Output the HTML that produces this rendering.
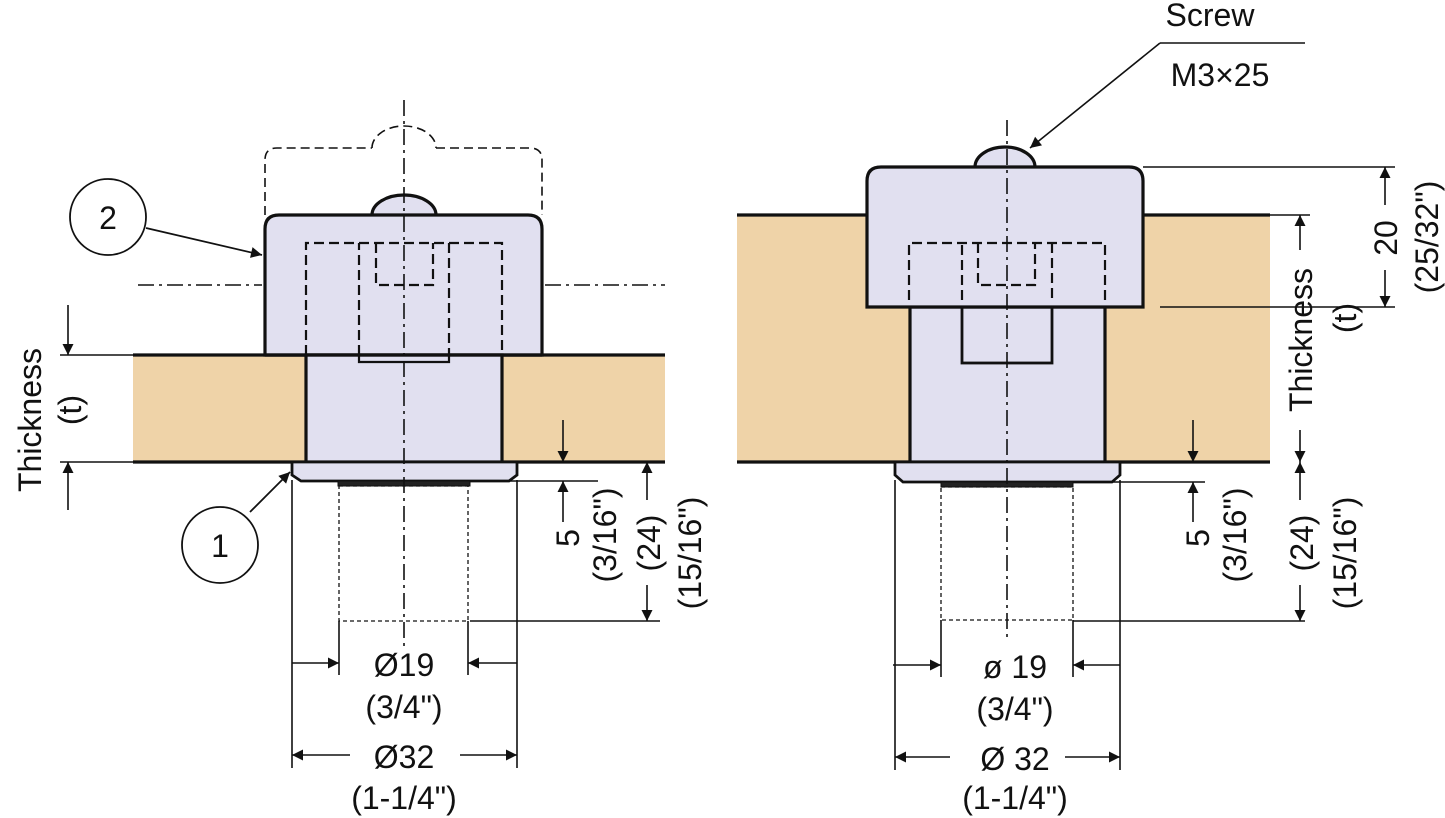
<!DOCTYPE html>
<html><head><meta charset="utf-8"><style>
html,body{margin:0;padding:0;background:#fff}
svg{display:block}
text{font-family:"Liberation Sans",sans-serif;font-size:32px;fill:#111}
</style></head><body>
<svg width="1445" height="818" viewBox="0 0 1445 818" xmlns="http://www.w3.org/2000/svg">
<defs>
<marker id="a" viewBox="0 0 10 10" refX="10" refY="5" markerWidth="20" markerHeight="11" orient="auto" markerUnits="userSpaceOnUse"><path d="M0,0L10,5L0,10z" fill="#111"/></marker>
</defs>
<g stroke="#111" fill="none">
<!-- ===== LEFT VIEW ===== -->
<rect x="133" y="355" width="532" height="107" fill="#efd3a8" stroke="none"/>
<line x1="133" y1="355" x2="665" y2="355" stroke-width="3.2"/>
<line x1="133" y1="462" x2="665" y2="462" stroke-width="3.2"/>
<path d="M265,215 V160 Q265,148 277,148 H372 M436,148 H530 Q542,148 542,160 V215" stroke-width="1.6" stroke-dasharray="9,5"/>
<path d="M372,148 A32,22 0 0 1 436,148" stroke-width="1.6" stroke-dasharray="9,5"/>
<line x1="138" y1="285" x2="262" y2="285" stroke-width="1.6" stroke-dasharray="16,5,3,5"/>
<line x1="545" y1="285" x2="665" y2="285" stroke-width="1.6" stroke-dasharray="16,5,3,5"/>
<path d="M372,215 A32,20 0 0 1 436,215" fill="#e1e0f0" stroke-width="3.2"/>
<path d="M265,355 V229 Q265,215 279,215 H528 Q542,215 542,229 V355 Z" fill="#e1e0f0" stroke-width="3.2"/>
<rect x="306" y="355" width="196" height="107" fill="#e1e0f0" stroke-width="3.2"/>
<line x1="265" y1="355" x2="542" y2="355" stroke-width="3.2"/>
<path d="M292,462 H517 V475 L509,481 H301 L292,475 Z" fill="#e1e0f0" stroke-width="2.8"/>
<rect x="338" y="481" width="132" height="5" fill="#222" stroke-width="1"/>
<path d="M306,355 V243 H502 V355" stroke-width="2.2" stroke-dasharray="10,5"/>
<path d="M359,355 V243 M449,243 V355" stroke-width="2.2" stroke-dasharray="10,5"/>
<path d="M359,355 V362 H449 V355" stroke-width="2.2"/>
<path d="M376,243 V285 H433 V243" stroke-width="2.2" stroke-dasharray="10,5"/>
<rect x="339" y="486" width="129" height="135" stroke-width="1.3" stroke-dasharray="4,3"/>
<line x1="404" y1="100" x2="404" y2="650" stroke-width="1.6" stroke-dasharray="16,5,3,5"/>
<circle cx="108" cy="217" r="38" fill="#fff" stroke-width="1.8"/>
<line x1="146" y1="228" x2="262" y2="255" stroke-width="1.8" marker-end="url(#a)"/>
<circle cx="220" cy="545" r="38" fill="#fff" stroke-width="1.8"/>
<line x1="250" y1="512" x2="290" y2="472" stroke-width="1.8" marker-end="url(#a)"/>
<line x1="60" y1="355" x2="133" y2="355" stroke-width="1.6"/>
<line x1="60" y1="462" x2="133" y2="462" stroke-width="1.6"/>
<line x1="68" y1="305" x2="68" y2="355" stroke-width="1.6" marker-end="url(#a)"/>
<line x1="68" y1="510" x2="68" y2="462" stroke-width="1.6" marker-end="url(#a)"/>
<line x1="470" y1="481" x2="598" y2="481" stroke-width="1.6"/>
<line x1="470" y1="621" x2="660" y2="621" stroke-width="1.6"/>
<line x1="563" y1="420" x2="563" y2="462" stroke-width="1.6" marker-end="url(#a)"/>
<line x1="563" y1="522" x2="563" y2="481" stroke-width="1.6" marker-end="url(#a)"/>
<line x1="647" y1="500" x2="647" y2="462" stroke-width="1.6" marker-end="url(#a)"/>
<line x1="647" y1="585" x2="647" y2="621" stroke-width="1.6" marker-end="url(#a)"/>
<line x1="292" y1="480" x2="292" y2="768" stroke-width="1.6"/>
<line x1="517" y1="480" x2="517" y2="768" stroke-width="1.6"/>
<line x1="339" y1="621" x2="339" y2="675" stroke-width="1.6"/>
<line x1="468" y1="621" x2="468" y2="675" stroke-width="1.6"/>
<line x1="292" y1="663" x2="339" y2="663" stroke-width="1.6" marker-end="url(#a)"/>
<line x1="517" y1="663" x2="468" y2="663" stroke-width="1.6" marker-end="url(#a)"/>
<line x1="350" y1="755" x2="292" y2="755" stroke-width="1.6" marker-end="url(#a)"/>
<line x1="460" y1="755" x2="517" y2="755" stroke-width="1.6" marker-end="url(#a)"/>

<!-- ===== RIGHT VIEW ===== -->
<rect x="737" y="215" width="533" height="247" fill="#efd3a8" stroke="none"/>
<line x1="737" y1="215" x2="1270" y2="215" stroke-width="3.2"/>
<line x1="737" y1="462" x2="1270" y2="462" stroke-width="3.2"/>
<path d="M975,167 A30,20 0 0 1 1035,167" fill="#e1e0f0" stroke-width="3.2"/>
<rect x="910" y="307" width="195" height="155" fill="#e1e0f0" stroke-width="3.2"/>
<path d="M867,307 V181 Q867,167 881,167 H1129 Q1143,167 1143,181 V307 Z" fill="#e1e0f0" stroke-width="3.2"/>
<rect x="962" y="307" width="90" height="56" stroke-width="2.8"/>
<path d="M895,462 H1120 V475 L1112,482 H903 L895,475 Z" fill="#e1e0f0" stroke-width="2.8"/>
<rect x="941" y="482" width="132" height="5" fill="#222" stroke-width="1"/>
<path d="M909,300 V243 H1105 V300" stroke-width="2.2" stroke-dasharray="10,5"/>
<path d="M962,300 V243 M1052,243 V300" stroke-width="2.2" stroke-dasharray="10,5"/>
<path d="M978,243 V285 H1035 V243" stroke-width="2.2" stroke-dasharray="10,5"/>
<rect x="941" y="487" width="132" height="133" stroke-width="1.3" stroke-dasharray="4,3"/>
<line x1="1007" y1="120" x2="1007" y2="640" stroke-width="1.6" stroke-dasharray="16,5,3,5"/>
<line x1="1160" y1="43" x2="1305" y2="43" stroke-width="1.6"/>
<line x1="1160" y1="43" x2="1030" y2="148" stroke-width="1.6" marker-end="url(#a)"/>
<line x1="1143" y1="167" x2="1395" y2="167" stroke-width="1.6"/>
<line x1="1160" y1="307" x2="1395" y2="307" stroke-width="1.6"/>
<line x1="1385" y1="205" x2="1385" y2="167" stroke-width="1.6" marker-end="url(#a)"/>
<line x1="1385" y1="270" x2="1385" y2="307" stroke-width="1.6" marker-end="url(#a)"/>
<line x1="1270" y1="215" x2="1310" y2="215" stroke-width="1.6"/>
<line x1="1300" y1="250" x2="1300" y2="215" stroke-width="1.6" marker-end="url(#a)"/>
<line x1="1300" y1="430" x2="1300" y2="462" stroke-width="1.6" marker-end="url(#a)"/>
<line x1="1073" y1="482" x2="1205" y2="482" stroke-width="1.6"/>
<line x1="1073" y1="621" x2="1305" y2="621" stroke-width="1.6"/>
<line x1="1193" y1="420" x2="1193" y2="462" stroke-width="1.6" marker-end="url(#a)"/>
<line x1="1193" y1="522" x2="1193" y2="482" stroke-width="1.6" marker-end="url(#a)"/>
<line x1="1300" y1="500" x2="1300" y2="462" stroke-width="1.6" marker-end="url(#a)"/>
<line x1="1300" y1="585" x2="1300" y2="621" stroke-width="1.6" marker-end="url(#a)"/>
<line x1="895" y1="480" x2="895" y2="770" stroke-width="1.6"/>
<line x1="1120" y1="480" x2="1120" y2="770" stroke-width="1.6"/>
<line x1="941" y1="620" x2="941" y2="677" stroke-width="1.6"/>
<line x1="1073" y1="620" x2="1073" y2="677" stroke-width="1.6"/>
<line x1="893" y1="665" x2="941" y2="665" stroke-width="1.6" marker-end="url(#a)"/>
<line x1="1120" y1="665" x2="1073" y2="665" stroke-width="1.6" marker-end="url(#a)"/>
<line x1="950" y1="757" x2="895" y2="757" stroke-width="1.6" marker-end="url(#a)"/>
<line x1="1065" y1="757" x2="1120" y2="757" stroke-width="1.6" marker-end="url(#a)"/>
</g>
<g text-anchor="middle">
<text x="108" y="229">2</text>
<text x="220" y="557">1</text>
<text x="404" y="676">Ø19</text>
<text x="404" y="718">(3/4")</text>
<text x="404" y="768">Ø32</text>
<text x="404" y="809">(1-1/4")</text>
<text x="1015" y="678">ø 19</text>
<text x="1015" y="720">(3/4")</text>
<text x="1015" y="770">Ø 32</text>
<text x="1015" y="809">(1-1/4")</text>
<text x="1210" y="26">Screw</text>
<text x="1220" y="86">M3×25</text>
<text transform="translate(41,420) rotate(-90)">Thickness</text>
<text transform="translate(81,410) rotate(-90)">(t)</text>
<text transform="translate(579,538) rotate(-90)">5</text>
<text transform="translate(616,535) rotate(-90)">(3/16")</text>
<text transform="translate(660,543) rotate(-90)">(24)</text>
<text transform="translate(701,553) rotate(-90)">(15/16")</text>
<text transform="translate(1209,538) rotate(-90)">5</text>
<text transform="translate(1246,535) rotate(-90)">(3/16")</text>
<text transform="translate(1313,543) rotate(-90)">(24)</text>
<text transform="translate(1356,553) rotate(-90)">(15/16")</text>
<text transform="translate(1312,340) rotate(-90)">Thickness</text>
<text transform="translate(1356,318) rotate(-90)">(t)</text>
<text transform="translate(1397,238) rotate(-90)">20</text>
<text transform="translate(1438,237) rotate(-90)">(25/32")</text>
</g>
</svg>
</body></html>
